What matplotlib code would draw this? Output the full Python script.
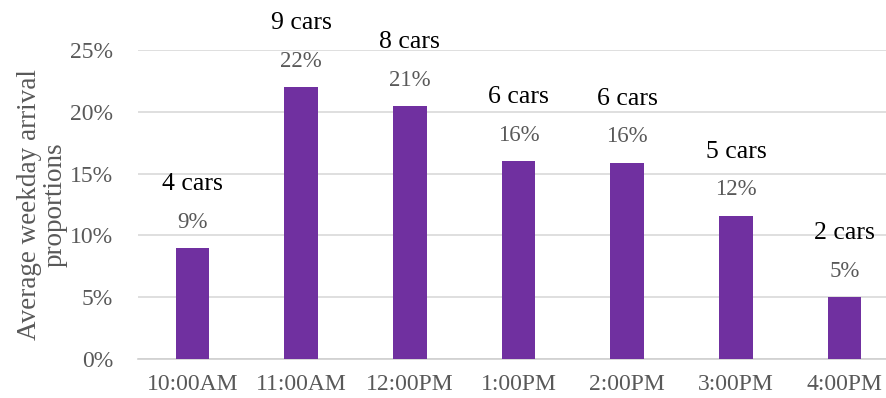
import matplotlib.pyplot as plt
from matplotlib.ticker import FuncFormatter

times = ['10:00AM', '11:00AM', '12:00PM', '1:00PM', '2:00PM', '3:00PM', '4:00PM']
proportions = [9.0, 22.0, 20.5, 16.0, 15.9, 11.6, 5.0]
pct_labels = ['9%', '22%', '21%', '16%', '16%', '12%', '5%']
car_labels = ['4 cars', '9 cars', '8 cars', '6 cars', '6 cars', '5 cars', '2 cars']

plt.rcParams['font.family'] = ['Liberation Serif', 'DejaVu Serif']

fig = plt.figure(figsize=(8.87, 3.98), dpi=100)
ax = fig.add_axes([0.1556, 0.098, 0.8444, 0.776])

x = range(len(times))
ax.bar(x, proportions, width=0.31, color='#7030A0', zorder=3)

for i, v in enumerate(proportions):
    ax.annotate(pct_labels[i], (i, v), xytext=(0, 18.5), textcoords='offset points',
                ha='center', va='center', fontsize=16.5, color='#595959', annotation_clip=False)
    ax.annotate(car_labels[i], (i, v), xytext=(0, 46), textcoords='offset points',
                ha='center', va='center', fontsize=18.5, color='black', annotation_clip=False)

ax.set_ylim(0, 25)
ax.set_xlim(-0.5, 6.39)
ax.set_yticks([0, 5, 10, 15, 20, 25])
ax.yaxis.set_major_formatter(FuncFormatter(lambda v, p: f'{v:.0f}%'))
ax.set_xticks(list(x))
ax.set_xticklabels(times)
ax.tick_params(axis='both', length=0, labelsize=17, labelcolor='#595959')
ax.tick_params(axis='x', pad=11)
ax.tick_params(axis='y', pad=18)
ax.grid(axis='y', color='#D9D9D9', linewidth=1.2, zorder=0)
for s in ['top', 'right', 'left']:
    ax.spines[s].set_visible(False)
ax.spines['bottom'].set_color('#D0D0D0')
ax.spines['bottom'].set_linewidth(1.2)

ax.set_ylabel('Average weekday arrival\nproportions', fontsize=19.5, color='#595959',
              linespacing=1.02, labelpad=2)

fig.savefig('out.png', dpi=100)
